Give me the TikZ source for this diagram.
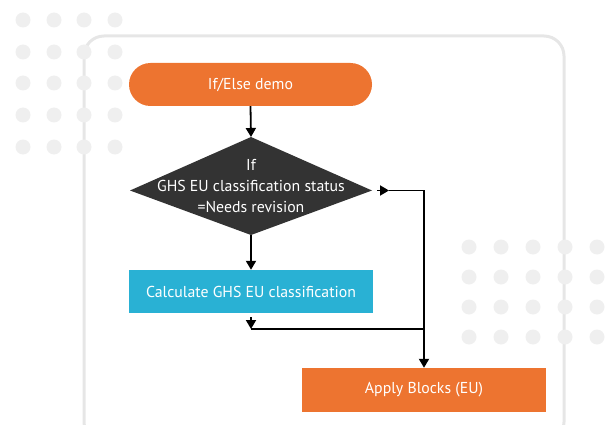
\documentclass[tikz,border=0pt]{standalone}
\usepackage{fontspec}
\setmainfont{PT Sans}
\usetikzlibrary{arrows.meta}
\definecolor{orng}{HTML}{ED7430}
\definecolor{cyanb}{HTML}{29B1D4}
\definecolor{dark}{HTML}{333333}
\definecolor{framec}{HTML}{E6E6E6}
\definecolor{dotc}{HTML}{EFEFEF}
\tikzset{
  boxtext/.style={text=white, font=\fontsize{15.8}{21}\selectfont, inner sep=0pt},
  startbox/.style={boxtext, fill=orng, minimum width=243pt, minimum height=43pt, rounded corners=21.5pt},
  calcbox/.style={boxtext, fill=cyanb, minimum width=244pt, minimum height=43pt},
  applybox/.style={boxtext, fill=orng, minimum width=244pt, minimum height=44pt},
  condtext/.style={boxtext, align=center},
  arr/.style={line width=1.8pt, -{Triangle[width=10pt,length=9pt]}},
  ln/.style={line width=1.8pt},
  dotfill/.style={fill=dotc},
  frameline/.style={draw=framec, line width=3pt, rounded corners=20pt}
}
\begin{document}
\begin{tikzpicture}[x=1pt,y=-1pt]
\useasboundingbox (0,0) rectangle (610,425);
% frame
\begin{scope}
\clip (0,0) rectangle (610,425);
\draw[frameline] (84,36) rectangle (564,442);
\end{scope}
% dots
\foreach \x in {23,54,84,115}
  \foreach \y in {20,52,83,115,147}
    \fill[dotfill] (\x,\y) circle (7.5pt);
\foreach \x in {469,501,533,565,597}
  \foreach \y in {247,277,307,337}
    \fill[dotfill] (\x,\y) circle (7.5pt);
% nodes
\node[startbox] (start) at (250.5,84.5) {If/Else demo};
\coordinate (dt) at (251,137);
\coordinate (dr) at (372,190.5);
\coordinate (db) at (251,235);
\coordinate (dl) at (130,190.5);
\fill[dark] (dt) -- (dr) -- (db) -- (dl) -- cycle;
\node[condtext] (cond) at (251,186) {If\\GHS EU classification status\\=Needs revision};
\node[calcbox] (calc) at (251,291.5) {Calculate GHS EU classification};
\node[applybox] (apply) at (424,390) {Apply Blocks (EU)};
% connectors
\coordinate (ra) at (389,190.5);
\coordinate (cb) at (251,329);
\draw[arr] (start.south) -- (dt);
\draw[arr] (db) -- (calc.north);
\draw[arr, shorten <=5pt] (dr) -- (ra);
\draw[arr] (ra) -| (apply.north);
\draw[arr, shorten <=4pt] (calc.south) -- (cb);
\draw[ln] (cb) -- (cb -| apply.north);
\end{tikzpicture}
\end{document}
